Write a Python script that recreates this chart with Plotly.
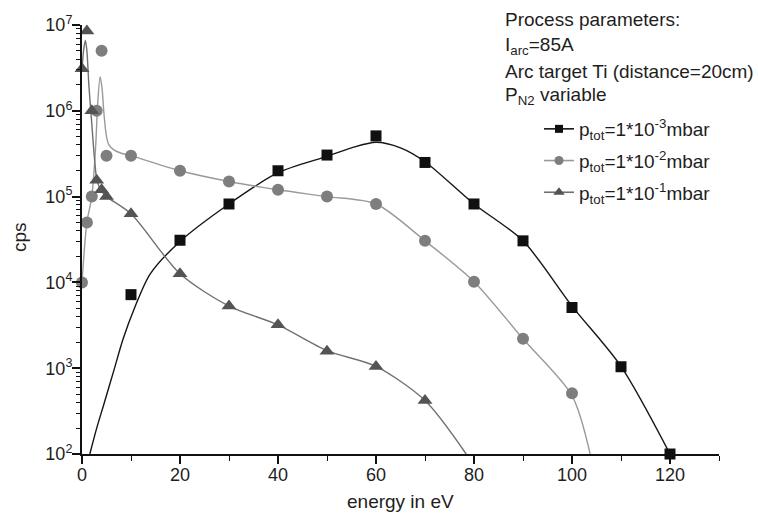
import plotly.graph_objects as go

# ---- measured ion energy distributions (points) ----
sq_energy = [10, 20, 30, 40, 50, 60, 70, 80, 90, 100, 110, 120]
sq_cps = [7.2e3, 3.1e4, 8.2e4, 2.0e5, 3.05e5, 5.1e5, 2.5e5, 8.2e4, 3.05e4, 5.1e3, 1.04e3, 1.0e2]

ci_energy = [0, 1, 2, 3, 4, 5, 10, 20, 30, 40, 50, 60, 70, 80, 90, 100]
ci_cps = [1.0e4, 5.0e4, 1.0e5, 1.0e6, 5.0e6, 3.0e5, 3.0e5, 2.0e5, 1.5e5, 1.2e5, 1.0e5,
          8.2e4, 3.05e4, 1.02e4, 2.2e3, 5.1e2]

tr_energy = [0, 1, 2, 3, 4, 5, 10, 20, 30, 40, 50, 60, 70]
tr_cps = [3.1e6, 8.5e6, 1.0e6, 1.55e5, 1.2e5, 1.0e5, 6.3e4, 1.26e4, 5.3e3, 3.2e3, 1.58e3,
          1.05e3, 4.2e2]

# ---- fitted curves ----
sq_fit_energy = [1.6, 3.0, 4.4, 6.4, 8.4, 10.7, 13.9, 20, 30, 40, 50, 55, 60, 65, 70, 80, 90,
                 100, 110, 120]
sq_fit_cps = [1.0e2, 2.0e2, 3.7e2, 9.0e2, 2.2e3, 5.0e3, 1.25e4, 3.0e4, 8.2e4, 1.9e5, 2.95e5,
              3.7e5, 4.3e5, 3.7e5, 2.55e5, 8.2e4, 3.05e4, 5.3e3, 1.05e3, 1.0e2]

ci_fit_energy = [0, 1, 2, 2.8, 3.2, 3.7, 4.1, 4.5, 5.0, 5.5, 6.5, 8, 10, 20, 30, 40, 50, 60,
                 70, 80, 90, 100, 103.7]
ci_fit_cps = [1.0e4, 5.0e4, 1.0e5, 4.0e5, 1.2e6, 2.5e6, 1.8e6, 9.0e5, 5.0e5, 4.0e5, 3.5e5,
              3.2e5, 3.0e5, 2.0e5, 1.5e5, 1.2e5, 1.0e5, 8.2e4, 3.05e4, 1.02e4, 2.2e3, 4.8e2,
              1.0e2]

tr_fit_energy = [0, 0.4, 0.7, 1.0, 1.4, 2.0, 2.5, 3.0, 3.5, 4.0, 5.0, 10, 20, 30, 40, 50, 60,
                 70, 78.4]
tr_fit_cps = [3.1e6, 5.5e6, 6.6e6, 5.0e6, 2.0e6, 7.0e5, 3.0e5, 1.6e5, 1.3e5, 1.15e5, 1.0e5,
              6.3e4, 1.26e4, 5.3e3, 3.2e3, 1.6e3, 1.05e3, 4.2e2, 1.0e2]

series_names = ["p<sub>tot</sub>=1*10<sup>-3</sup>mbar",
                "p<sub>tot</sub>=1*10<sup>-2</sup>mbar",
                "p<sub>tot</sub>=1*10<sup>-1</sup>mbar"]

y_tickvals = [1e2, 1e3, 1e4, 1e5, 1e6, 1e7]
y_ticktext = ["10<sup>2</sup>", "10<sup>3</sup>", "10<sup>4</sup>",
              "10<sup>5</sup>", "10<sup>6</sup>", "10<sup>7</sup>"]
y_minor = [k * 10 ** n for n in range(2, 7) for k in range(2, 10)]
x_tickvals = [0, 20, 40, 60, 80, 100, 120]

FONT = "Arial, Liberation Sans, Helvetica, sans-serif"
INK = "#1e1e1e"

styles = [
    dict(line="#151515", fill="#101010", symbol="square", size=11, lsize=8),
    dict(line="#9a9a9a", fill="#7e7e7e", symbol="circle", size=12, lsize=9),
    dict(line="#707070", fill="#545454", symbol="triangle-up", size=13, lsize=10),
]

fig = go.Figure()

fits = [(sq_fit_energy, sq_fit_cps), (ci_fit_energy, ci_fit_cps), (tr_fit_energy, tr_fit_cps)]
points = [(sq_energy, sq_cps), (ci_energy, ci_cps), (tr_energy, tr_cps)]

for (fx, fy), st in zip(fits, styles):
    fig.add_trace(go.Scatter(
        x=fx, y=fy, mode="lines", showlegend=False, hoverinfo="skip",
        line=dict(color=st["line"], width=1.4, shape="spline", smoothing=0.8),
    ))

for (px, py), st in zip(points, styles):
    fig.add_trace(go.Scatter(
        x=px, y=py, mode="markers", showlegend=False, cliponaxis=False,
        marker=dict(symbol=st["symbol"], size=st["size"], color=st["fill"],
                    line=dict(width=0)),
    ))

# legend entries (line + symbol)
for i, (name, st) in enumerate(zip(series_names, styles)):
    fig.add_trace(go.Scatter(
        x=[None], y=[None], mode="lines+markers", name=name, legendgroup=f"g{i}",
        line=dict(color=st["line"], width=1.6),
        marker=dict(symbol=st["symbol"], size=st["lsize"], color=st["fill"]),
    ))

# process parameter notes
notes = [
    ("Process parameters:", 19),
    ("I<sub>arc</sub>=85A", 46),
    ("Arc target Ti (distance=20cm)", 72),
    ("P<sub>N2</sub> variable", 96.5),
]
L, T, PW, PH = 82, 25, 637, 429
for text, ypx in notes:
    fig.add_annotation(
        x=(503 - L) / PW, y=(T + PH - ypx) / PH, xref="paper", yref="paper",
        xanchor="left", yanchor="middle", showarrow=False, text=text,
        font=dict(family=FONT, size=19, color=INK),
    )

# axis titles
fig.add_annotation(
    x=(19 - L) / PW, y=(T + PH - 237) / PH, xref="paper", yref="paper",
    xanchor="center", yanchor="middle", showarrow=False, text="cps", textangle=-90,
    font=dict(family=FONT, size=19, color=INK),
)
fig.add_annotation(
    x=0.5, y=(T + PH - 501) / PH, xref="paper", yref="paper",
    xanchor="center", yanchor="middle", showarrow=False, text="energy in eV",
    font=dict(family=FONT, size=19, color=INK),
)

fig.update_layout(
    width=758, height=513,
    margin=dict(l=L, r=758 - L - PW, t=T, b=513 - T - PH, pad=0),
    paper_bgcolor="white", plot_bgcolor="white",
    font=dict(family=FONT, size=18, color=INK),
    legend=dict(
        x=(539 - L) / PW, y=(T + PH - 110) / PH, xanchor="left", yanchor="top",
        font=dict(family=FONT, size=19, color=INK), bgcolor="rgba(0,0,0,0)",
        traceorder="grouped", tracegroupgap=4, itemwidth=30,
    ),
    xaxis=dict(
        range=[0, 130], showgrid=False, zeroline=False,
        showline=True, linecolor="#111", linewidth=2,
        ticks="outside", ticklen=8, tickwidth=1.6, tickcolor="#111",
        tickvals=x_tickvals, tickfont=dict(size=18, family=FONT, color=INK),
        ticklabelstandoff=-5,
        minor=dict(tickvals=[10, 30, 50, 70, 90, 110, 130], ticks="outside",
                   ticklen=5, tickwidth=1.4, tickcolor="#111"),
    ),
    yaxis=dict(
        type="log", range=[2, 7], showgrid=False, zeroline=False,
        showline=True, linecolor="#111", linewidth=2,
        ticks="outside", ticklen=8, tickwidth=1.6, tickcolor="#111",
        tickvals=y_tickvals, ticktext=y_ticktext, ticklabelstandoff=-4,
        tickfont=dict(size=18, family=FONT, color=INK),
        minor=dict(tickvals=y_minor, ticks="outside", ticklen=4, tickwidth=1.2,
                   tickcolor="#111"),
    ),
)

fig.write_html("out.html")
